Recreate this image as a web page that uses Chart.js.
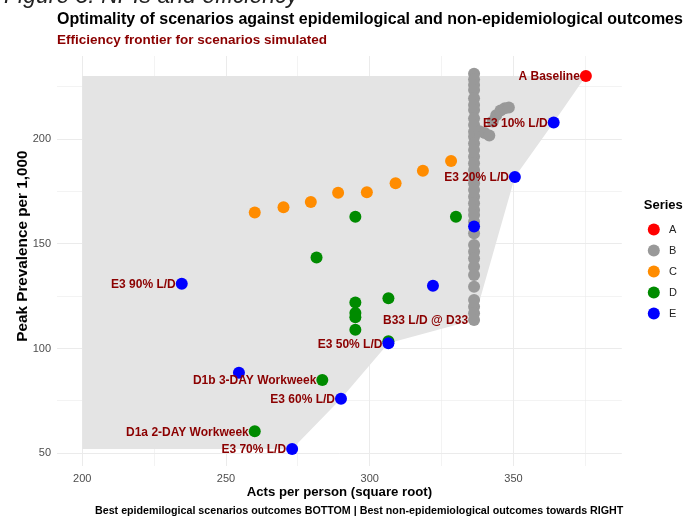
<!DOCTYPE html>
<html>
<head>
<meta charset="utf-8">
<script src="https://cdn.jsdelivr.net/npm/chart.js@4.4.0/dist/chart.umd.min.js"></script>
<style>
  html, body { margin: 0; padding: 0; background: #fff; }
  body { width: 687px; height: 517px; position: relative; overflow: hidden; font-family: "Liberation Sans", Arial, sans-serif; }
  #wrap { position: absolute; left: 0; top: 0; width: 687px; height: 517px; }
  .txt { position: absolute; white-space: nowrap; line-height: 1; }
  #fig { left: 4px; top: -16px; font-size: 23px; font-style: italic; color: #222; }
  #title { left: 57px; top: 11px; font-size: 16px; font-weight: bold; color: #000; }
  #subtitle { left: 57px; top: 33px; font-size: 13.5px; font-weight: bold; color: #8B0000; }
  #caption { left: 95px; top: 505px; font-size: 10.7px; font-weight: bold; color: #000; }
</style>
</head>
<body>
<div id="wrap"><canvas id="chart"></canvas></div>
<div class="txt" id="fig">Figure 3: NPIs and efficiency</div>
<div class="txt" id="title">Optimality of scenarios against epidemilogical and non-epidemiological outcomes</div>
<div class="txt" id="subtitle">Efficiency frontier for scenarios simulated</div>
<div class="txt" id="caption">Best epidemilogical scenarios outcomes BOTTOM | Best non-epidemiological outcomes towards RIGHT</div>
<script>
// Series values: acts per person (sqrt) and peak prevalence per 1,000
const seriesNames = ['A', 'B', 'C', 'D', 'E'];
const seriesColors = ['#FF0000', '#999999', '#FF8C00', '#008B00', '#0000FF'];

const aActs = [375.2];
const aPeak = [230.2];

const bActs = [336.3, 336.3, 336.3, 336.3, 336.3, 336.3, 336.3, 336.3, 336.3, 336.3,
  336.3, 336.3, 336.3, 336.3, 336.3, 336.3, 336.3, 336.3, 336.3, 336.3,
  336.3, 336.3, 336.3, 336.3, 336.3, 336.3, 336.3, 336.3, 336.3, 336.3,
  336.3, 336.3, 336.3, 336.3, 336.3,
  338.2, 340, 341.6, 342.8, 344, 345.5, 347, 348.4];
const bPeak = [231.3, 228.6, 226, 223.6, 219.6, 216.4, 214, 210, 206.8, 203.6,
  201.2, 198, 194.9, 191.7, 188.5, 185.3, 182.1, 179, 175.8, 172.6,
  169.4, 166.2, 163.8, 160.6, 155.1, 149.5, 146.3, 143.1, 139.1, 135.2,
  129.6, 123.2, 120, 116.9, 113.7,
  203.8, 203, 201.8, 208.5, 211.5, 213.8, 214.8, 215.2];

const cActs = [260, 270, 279.5, 289, 299, 309, 318.5, 328.3];
const cPeak = [165, 167.5, 170, 174.5, 174.7, 179, 185, 189.6];

const dActs = [295, 281.5, 330, 295, 306.5, 295, 295, 295, 306.5, 283.5, 260];
const dPeak = [163, 143.5, 163, 122, 124, 117, 115, 109, 103.5, 85, 60.5];

const eActs = [364, 350.5, 336.3, 234.6, 322, 306.5, 254.5, 290, 273];
const ePeak = [208, 182, 158.3, 131, 130, 102.5, 88.5, 76, 52];

// Efficiency frontier (shaded area) vertices
const frontierActs = [200, 375.2, 364, 350.5, 336.3, 306.5, 290, 273, 200];
const frontierPeak = [230.2, 230.2, 208, 182, 113.7, 102.5, 76, 52, 52];

// Scenario labels
const labelText = ['A Baseline', 'E3 10% L/D', 'E3 20% L/D', 'E3 90% L/D', 'B33 L/D @ D33',
  'E3 50% L/D', 'D1b 3-DAY Workweek', 'E3 60% L/D', 'D1a 2-DAY Workweek', 'E3 70% L/D'];
const labelActs = [375.2, 364, 350.5, 234.6, 336.3, 306.5, 283.5, 290, 260, 273];
const labelPeak = [230.2, 208, 182, 131, 113.7, 102.5, 85, 76, 60.5, 52];

// Axis ticks
const xTickLabels = [200, 250, 300, 350];
const yTickLabels = [50, 100, 150, 200];

const FONT = '"Liberation Sans", Arial, sans-serif';

function toPoints(xs, ys) {
  return xs.map((x, i) => ({ x: x, y: ys[i] }));
}

const seriesActs = [aActs, bActs, cActs, dActs, eActs];
const seriesPeak = [aPeak, bPeak, cPeak, dPeak, ePeak];

const datasets = seriesNames.map((name, i) => ({
  type: 'scatter',
  label: name,
  data: toPoints(seriesActs[i], seriesPeak[i]),
  backgroundColor: seriesColors[i],
  borderColor: seriesColors[i],
  borderWidth: 0,
  pointRadius: 6,
  pointHoverRadius: 6,
  pointStyle: 'circle',
  yAxisID: 'y',
  order: 5 - i
}));

datasets.push({
  type: 'line',
  label: 'frontier',
  data: toPoints(frontierActs, frontierPeak),
  backgroundColor: '#e4e4e4',
  borderColor: 'rgba(0,0,0,0)',
  borderWidth: 0,
  pointRadius: 0,
  tension: 0,
  fill: 'shape',
  yAxisID: 'y',
  order: 10
});

// Draw scenario labels in dark red to the left of their points
const pointLabels = {
  id: 'pointLabels',
  afterDatasetsDraw(chart) {
    const { ctx, scales: { x, y } } = chart;
    ctx.save();
    ctx.font = 'bold 12px ' + FONT;
    ctx.fillStyle = '#8B0000';
    ctx.textAlign = 'right';
    ctx.textBaseline = 'middle';
    labelText.forEach((t, i) => {
      ctx.fillText(t, x.getPixelForValue(labelActs[i]) - 6, y.getPixelForValue(labelPeak[i]) + 1);
    });
    ctx.restore();
  }
};

const gridColor = '#ebebeb';
const gridWidth = (ctx) => (ctx.tick && ctx.tick.value % 50 === 0 ? 1 : 0.6);

new Chart(document.getElementById('chart'), {
  type: 'scatter',
  data: { datasets: datasets },
  plugins: [pointLabels],
  options: {
    responsive: true,
    maintainAspectRatio: false,
    animation: false,
    events: [],
    layout: { padding: { top: 56, left: 0, right: 0, bottom: 15 } },
    plugins: {
      tooltip: { enabled: false },
      legend: {
        position: 'right',
        align: 'start',
        title: {
          display: true,
          text: 'Series',
          color: '#000',
          font: { family: FONT, size: 13, weight: 'bold' },
          padding: { top: 142.5, bottom: 0 }
        },
        labels: {
          usePointStyle: true,
          pointStyle: 'circle',
          boxWidth: 8.5,
          boxHeight: 8.5,
          padding: 10,
          color: '#222',
          font: { family: FONT, size: 11 },
          filter: (item) => item.text !== 'frontier',
          sort: (a, b) => a.datasetIndex - b.datasetIndex,
          generateLabels: (chart) => Chart.defaults.plugins.legend.labels.generateLabels(chart)
            .map((item) => Object.assign(item, { text: item.text === 'frontier' ? item.text : '\u2002' + item.text }))
        }
      }
    },
    scales: {
      x: {
        type: 'linear',
        min: 191.2,
        max: 387.7,
        afterFit: (s) => { s.height = 36; },
        border: { display: false },
        grid: { color: gridColor, lineWidth: gridWidth, drawTicks: false },
        ticks: {
          stepSize: 25,
          includeBounds: false,
          padding: 6,
          color: '#4d4d4d',
          font: { family: FONT, size: 11 },
          callback: (v) => (xTickLabels.includes(v) ? v : '')
        },
        title: {
          display: true,
          text: 'Acts per person (square root)',
          color: '#000',
          font: { family: FONT, size: 13.2, weight: 'bold' },
          padding: { top: 0, bottom: 2 }
        }
      },
      y: {
        type: 'linear',
        min: 43.9,
        max: 239.8,
        afterFit: (s) => { s.width = 57; },
        border: { display: false },
        grid: { color: gridColor, lineWidth: gridWidth, drawTicks: false },
        ticks: {
          stepSize: 25,
          includeBounds: false,
          padding: 6,
          color: '#4d4d4d',
          font: { family: FONT, size: 11 },
          callback: (v) => (yTickLabels.includes(v) ? v : '')
        },
        title: {
          display: true,
          // leading spaces nudge the rotated title upward, as in the original
          text: '       Peak Prevalence per 1,000',
          color: '#000',
          font: { family: FONT, size: 15.3, weight: 'bold' },
          padding: { top: 14, bottom: 0 }
        }
      },
      gap: {
        type: 'linear',
        position: 'right',
        axis: 'y',
        afterFit: (s) => { s.width = 17.75; },
        border: { display: false },
        grid: { display: false },
        ticks: { display: false }
      }
    }
  }
});
</script>
</body>
</html>
